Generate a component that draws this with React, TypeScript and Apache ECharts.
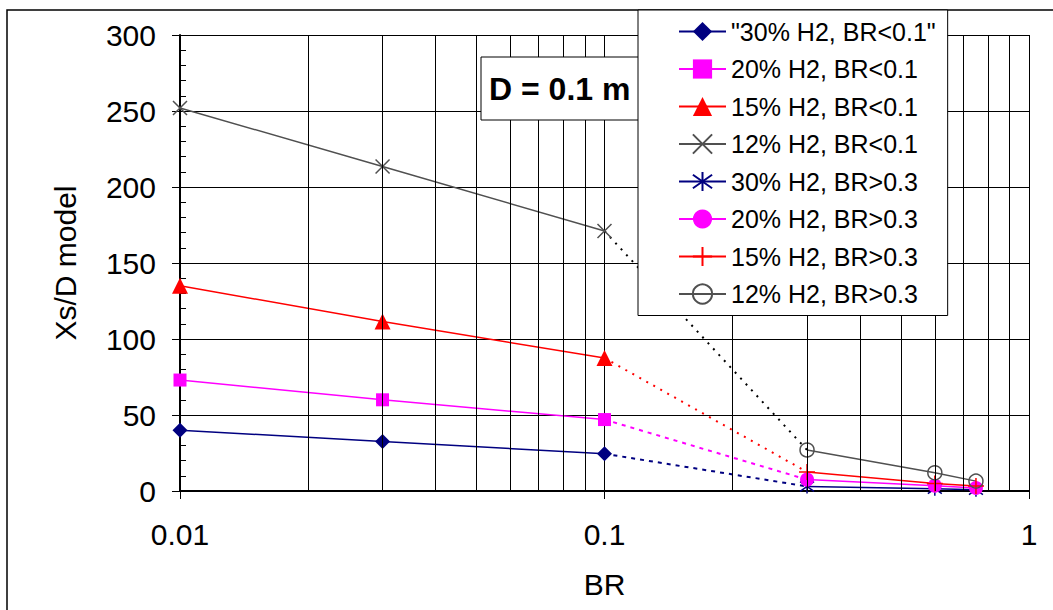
import React, { useEffect, useRef } from "react";
import * as echarts from "echarts";

// ---- Data ----
const BR_LOW = [0.01, 0.03, 0.1];
const BR_HIGH = [0.3, 0.6, 0.75];

const H2_30_LOW = [40, 32.5, 24.5];
const H2_20_LOW = [73, 60, 47];
const H2_15_LOW = [135, 111.5, 87.5];
const H2_12_LOW = [252, 213.5, 171];

const H2_30_HIGH = [3, 1.5, 0.8];
const H2_20_HIGH = [7.5, 3.5, 2];
const H2_15_HIGH = [12.5, 5, 3.3];
const H2_12_HIGH = [27, 12, 6.5];

const SERIES_NAMES = [
  '"30% H2, BR<0.1"',
  "20% H2, BR<0.1",
  "15% H2, BR<0.1",
  "12% H2, BR<0.1",
  "30% H2, BR>0.3",
  "20% H2, BR>0.3",
  "15% H2, BR>0.3",
  "12% H2, BR>0.3",
];

const X_TICK_LABELS = ["0.01", "0.1", "1"];
const X_MINOR_GRID = [0.02, 0.03, 0.04, 0.05, 0.06, 0.07, 0.08, 0.09, 0.2, 0.3, 0.4, 0.5, 0.6, 0.7, 0.8, 0.9];
const Y_MIN = 0;
const Y_MAX = 300;
const Y_STEP = 50;
const Y_MINOR_STEP = 10;

const X_TITLE = "BR";
const Y_TITLE = "Xs/D model";
const BOX_TEXT = "D = 0.1 m";

const FONT = '"Liberation Sans", Arial, sans-serif';

const NAVY = "#000080";
const MAGENTA = "#ff00ff";
const RED = "#ff0000";
const GRAY = "#505050";

const CROSS = "path://M0,0L10,10M10,0L0,10";
const STAR = "path://M5,0L5,10M0,1.5L10,8.5M10,1.5L0,8.5";
const PLUS = "path://M5,0L5,10M0,5L10,5";

const pairs = (xs: number[], ys: number[]) => xs.map((x, i) => [x, ys[i]]);

export default function App() {
  const ref = useRef<HTMLDivElement>(null);

  useEffect(() => {
    document.body.style.margin = "0";
    const chart = echarts.init(ref.current!, undefined, { renderer: "svg" });

    const mainLine = (
      name: string,
      xs: number[],
      ys: number[],
      color: string,
      symbol: string,
      symbolSize: number | number[],
      hollow: boolean
    ) => ({
      type: "line",
      name,
      data: pairs(xs, ys),
      symbol,
      symbolSize,
      showSymbol: true,
      z: 3,
      lineStyle: { color, width: 1.5 },
      itemStyle: hollow
        ? { color: "rgba(0,0,0,0)", borderColor: color, borderWidth: 1.5 }
        : { color, borderWidth: 0 },
      emphasis: { disabled: true },
    });

    const connector = (name: string, a: number, b: number, color: string, dash: number[]) => ({
      type: "line",
      name,
      data: [
        [BR_LOW[BR_LOW.length - 1], a],
        [BR_HIGH[0], b],
      ],
      symbol: "none",
      z: 2,
      lineStyle: { color, width: 2, type: dash },
      emphasis: { disabled: true },
    });

    const option: any = {
      animation: false,
      textStyle: { fontFamily: FONT },
      grid: { left: 180, right: 24, top: 35, bottom: 119, containLabel: false },
      xAxis: {
        type: "log",
        logBase: 10,
        min: 0.01,
        max: 1,
        name: X_TITLE,
        nameLocation: "middle",
        nameGap: 78,
        nameTextStyle: { fontSize: 30, color: "#000", fontFamily: FONT },
        axisLine: { show: true, onZero: false, lineStyle: { color: "#000", width: 2 } },
        axisTick: { show: true, inside: false, length: 8, lineStyle: { color: "#000", width: 1 } },
        axisLabel: {
          fontSize: 30,
          color: "#000",
          margin: 28,
          fontFamily: FONT,
          formatter: (v: number) => X_TICK_LABELS[Math.round(Math.log10(v)) + 2] ?? "",
        },
        splitLine: { show: true, lineStyle: { color: "#000", width: 1 } },
      },
      yAxis: [
        {
          type: "value",
          min: Y_MIN,
          max: Y_MAX,
          interval: Y_STEP,
          name: Y_TITLE,
          nameLocation: "middle",
          nameGap: 100,
          nameRotate: 90,
          nameTextStyle: { fontSize: 30, color: "#000", fontFamily: FONT },
          axisLine: { show: true, lineStyle: { color: "#000", width: 2 } },
          axisTick: { show: true, inside: false, length: 8, lineStyle: { color: "#000", width: 1 } },
          axisLabel: { fontSize: 30, color: "#000", margin: 24, fontFamily: FONT },
          splitLine: { show: true, lineStyle: { color: "#000", width: 1 } },
        },
        {
          type: "value",
          position: "left",
          offset: 0,
          min: Y_MIN,
          max: Y_MAX,
          interval: Y_MINOR_STEP,
          axisLine: { show: false },
          axisTick: { show: true, inside: true, length: 6, lineStyle: { color: "#000", width: 1 } },
          axisLabel: { show: false },
          splitLine: { show: false },
        },
      ],
      legend: {
        show: true,
        data: SERIES_NAMES,
        orient: "vertical",
        left: 638,
        top: 10,
        padding: [9, 12, 9, 40],
        itemGap: 12.5,
        itemWidth: 47,
        itemHeight: 24,
        backgroundColor: "#fff",
        borderColor: "#000",
        borderWidth: 1,
        borderRadius: 0,
        z: 20,
        textStyle: { fontSize: 25, color: "#000", fontFamily: FONT },
        selectedMode: false,
      },
      graphic: [
        {
          type: "rect",
          z: 0,
          silent: true,
          shape: { x: 7, y: 10, width: 1100, height: 700 },
          style: { fill: "none", stroke: "#000", lineWidth: 1.5 },
        },
        {
          type: "group",
          z: 10,
          children: [
            {
              type: "rect",
              z: 10,
              shape: { x: 481, y: 57, width: 200, height: 63 },
              style: { fill: "#fff", stroke: "#000", lineWidth: 1 },
            },
            {
              type: "text",
              z: 11,
              x: 489,
              y: 89,
              style: {
                text: BOX_TEXT,
                font: `bold 32px ${FONT}`,
                fill: "#000",
                verticalAlign: "middle",
                align: "left",
              },
            },
          ],
        },
      ],
      series: [
        {
          type: "line",
          name: "minor-grid",
          data: [],
          z: 1,
          silent: true,
          markLine: {
            silent: true,
            animation: false,
            symbol: ["none", "none"],
            label: { show: false },
            lineStyle: { color: "#000", width: 1, type: "solid" },
            emphasis: { disabled: true },
            data: X_MINOR_GRID.map((v) => ({ xAxis: v })),
          },
        },
        connector("c30", H2_30_LOW[2], H2_30_HIGH[0], NAVY, [4, 5]),
        connector("c20", H2_20_LOW[2], H2_20_HIGH[0], MAGENTA, [4, 5]),
        connector("c15", H2_15_LOW[2], H2_15_HIGH[0], RED, [2, 6]),
        connector("c12", H2_12_LOW[2], H2_12_HIGH[0], "#000", [2, 6]),
        mainLine(SERIES_NAMES[0], BR_LOW, H2_30_LOW, NAVY, "diamond", 15, false),
        mainLine(SERIES_NAMES[1], BR_LOW, H2_20_LOW, MAGENTA, "rect", 13, false),
        mainLine(SERIES_NAMES[2], BR_LOW, H2_15_LOW, RED, "triangle", 16, false),
        mainLine(SERIES_NAMES[3], BR_LOW, H2_12_LOW, GRAY, CROSS, 14, true),
        mainLine(SERIES_NAMES[4], BR_HIGH, H2_30_HIGH, NAVY, STAR, 14, true),
        mainLine(SERIES_NAMES[5], BR_HIGH, H2_20_HIGH, MAGENTA, "circle", 14, false),
        mainLine(SERIES_NAMES[6], BR_HIGH, H2_15_HIGH, RED, PLUS, 16, true),
        mainLine(SERIES_NAMES[7], BR_HIGH, H2_12_HIGH, GRAY, "circle", 14, true),
      ],
    };

    chart.setOption(option);
    return () => chart.dispose();
  }, []);

  return <div ref={ref} style={{ width: 1053, height: 610 }} />;
}
